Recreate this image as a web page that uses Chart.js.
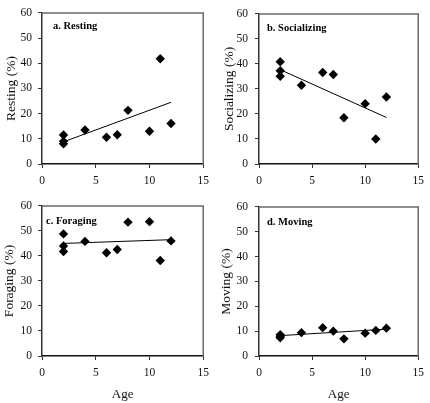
<!DOCTYPE html>
<html>
<head>
<meta charset="utf-8">
<script src="https://cdn.jsdelivr.net/npm/chart.js@4.4.0/dist/chart.umd.min.js"></script>
<style>
  html, body { margin: 0; padding: 0; background: #fff; }
  body { width: 430px; height: 403px; position: relative; overflow: hidden; }
  .p { position: absolute; }
</style>
</head>
<body>
<div class="p" style="left:0;top:0;width:215px;height:200px"><canvas id="ca"></canvas></div>
<div class="p" style="left:215px;top:0;width:215px;height:200px"><canvas id="cb"></canvas></div>
<div class="p" style="left:0;top:193px;width:215px;height:210px"><canvas id="cc"></canvas></div>
<div class="p" style="left:215px;top:193px;width:215px;height:210px"><canvas id="cd"></canvas></div>
<script>
// ---- data ----
const ages = [2, 2, 2, 4, 6, 7, 8, 10, 11, 12];
const resting     = [11.5, 9.0, 8.0, 13.5, 10.6, 11.6, 21.3, 13.0, 41.8, 16.1];
const socializing = [40.9, 37.3, 35.1, 31.5, 36.6, 35.8, 18.5, 24.1, 10.0, 26.8];
const foraging    = [48.8, 44.0, 41.8, 45.8, 41.3, 42.6, 53.5, 53.7, 38.2, 46.0];
const moving      = [8.6, 7.3, 7.9, 9.4, 11.4, 10.0, 6.9, 9.2, 10.3, 11.2];

const trendAges        = [2, 12];
const restingTrend     = [8.8, 24.5];
const socializingTrend = [37.7, 18.6];
const foragingTrend    = [45.0, 46.5];
const movingTrend      = [8.2, 10.8];

const xTicks = [0, 5, 10, 15];
const yTicks = [0, 10, 20, 30, 40, 50, 60];

const panelTitles = ['a. Resting', 'b. Socializing', 'c. Foraging', 'd. Moving'];
const yTitles = ['Resting (%)', 'Socializing (%)', 'Foraging (%)', 'Moving (%)'];
const xTitle = 'Age';

const SERIF = "'Liberation Serif', 'Times New Roman', serif";

function pts(xs, ys) { return xs.map((x, i) => ({ x: x, y: ys[i] })); }

const framePlugin = {
  id: 'frame',
  afterDraw(chart, args, opts) {
    const { ctx, chartArea: a } = chart;
    ctx.save();
    ctx.strokeStyle = '#6a6a6a';
    ctx.lineWidth = 1.5;
    ctx.beginPath();
    ctx.moveTo(a.left, a.top);
    ctx.lineTo(a.right, a.top);
    ctx.lineTo(a.right, a.bottom);
    ctx.stroke();
    ctx.fillStyle = '#000';
    ctx.font = "bold 10.5px " + SERIF;
    ctx.textBaseline = 'middle';
    ctx.textAlign = 'left';
    ctx.fillText(opts.text, a.left + opts.dx, a.top + opts.dy);
    ctx.restore();
  }
};

function makeChart(id, vals, trend, idx, cfg) {
  new Chart(document.getElementById(id), {
    type: 'scatter',
    data: {
      datasets: [
        {
          data: pts(ages, vals),
          pointStyle: 'rectRot',
          pointRadius: 4.7,
          pointHoverRadius: 4.7,
          backgroundColor: '#000',
          borderColor: '#000',
          borderWidth: 0
        },
        {
          type: 'line',
          data: pts(trendAges, trend),
          borderColor: '#000',
          borderWidth: 1,
          pointRadius: 0,
          fill: false
        }
      ]
    },
    plugins: [framePlugin],
    options: {
      responsive: true,
      maintainAspectRatio: false,
      animation: false,
      events: [],
      layout: { padding: { top: 6, right: cfg.right, left: 0, bottom: 0 } },
      plugins: {
        legend: { display: false },
        tooltip: { enabled: false },
        frame: { text: panelTitles[idx], dx: cfg.tdx, dy: cfg.tdy }
      },
      scales: {
        x: {
          type: 'linear',
          min: 0, max: 15,
          afterBuildTicks: s => { s.ticks = xTicks.map(v => ({ value: v })); },
          afterFit: s => { s.height = cfg.xh; },
          grid: { display: true, drawOnChartArea: false, drawTicks: true, tickLength: 4, color: '#333' },
          border: { display: true, color: '#111', width: 1.5 },
          ticks: { color: '#111', padding: 6, font: { family: SERIF, size: 11.5 } },
          title: {
            display: cfg.showX,
            text: xTitle,
            color: '#111',
            padding: { top: 0, bottom: 1 },
            font: { family: SERIF, size: 13 }
          }
        },
        y: {
          type: 'linear',
          min: 0, max: 60,
          afterBuildTicks: s => { s.ticks = yTicks.map(v => ({ value: v })); },
          afterFit: s => { s.width = cfg.yw; },
          grid: { display: true, drawOnChartArea: false, drawTicks: true, tickLength: 4, color: '#333' },
          border: { display: true, color: '#333', width: 1.5 },
          ticks: { color: '#111', padding: cfg.ytp, font: { family: SERIF, size: 11.5 } },
          title: {
            display: true,
            text: yTitles[idx],
            color: '#111',
            padding: { top: cfg.ytitle, bottom: 0 },
            font: { family: SERIF, size: 13.5 }
          }
        }
      }
    }
  });
}

makeChart('ca', resting, restingTrend, 0,         { right: 10, xh: 36, yw: 42, ytp: 6, ytitle: 3, showX: false, tdx: 11, tdy: 13.5 });
makeChart('cb', socializing, socializingTrend, 1, { right: 8,  xh: 36, yw: 44, ytp: 7, ytitle: 6, showX: false, tdx: 8,  tdy: 14 });
makeChart('cc', foraging, foragingTrend, 2,       { right: 10, xh: 47, yw: 42, ytp: 6, ytitle: 1, showX: true,  tdx: 4,  tdy: 15 });
makeChart('cd', moving, movingTrend, 3,           { right: 8,  xh: 47, yw: 44, ytp: 7, ytitle: 3.5, showX: true, tdx: 8,  tdy: 15 });
</script>
</body>
</html>
